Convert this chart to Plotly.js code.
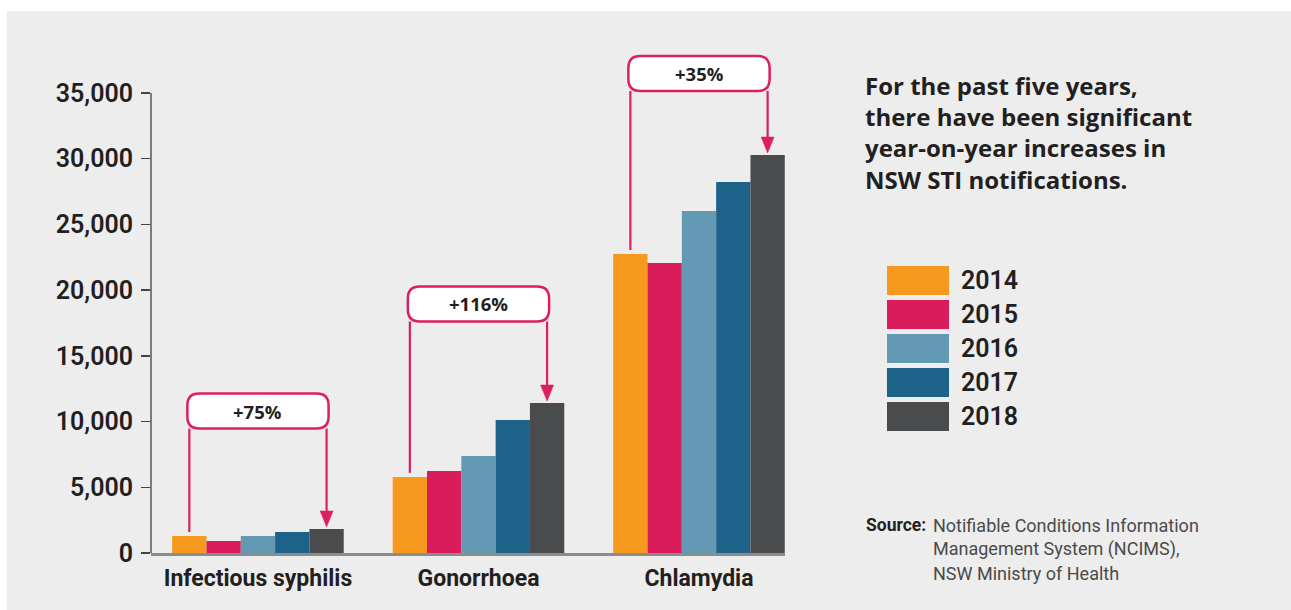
<!DOCTYPE html>
<html>
<head>
<meta charset="utf-8">
<script src="https://cdn.plot.ly/plotly-3.0.1.min.js"></script>
<style>
  html, body { margin: 0; padding: 0; background: #ffffff; }
  #chart { position: absolute; left: 7px; top: 11px; width: 1284px; height: 599px; }
</style>
</head>
<body>
<div id="chart"></div>
<script>
// ---------- data ----------
const categories = ["Infectious syphilis", "Gonorrhoea", "Chlamydia"];
const years = ["2014", "2015", "2016", "2017", "2018"];
const v2014 = [1290, 5790, 22750];
const v2015 = [910, 6240, 22070];
const v2016 = [1290, 7380, 26020];
const v2017 = [1600, 10120, 28230];
const v2018 = [1830, 11410, 30280];
const changeLabels = ["+75%", "+116%", "+35%"];
const yTicks = [0, 5000, 10000, 15000, 20000, 25000, 30000, 35000];
const headingLines = ["For the past five years,", "there have been significant", "year-on-year increases in", "NSW STI notifications."];
const sourceLines = ["Notifiable Conditions Information", "Management System (NCIMS),", "NSW Ministry of Health"];

// ---------- style / layout constants ----------
const seriesValues = [v2014, v2015, v2016, v2017, v2018];
const colors = ["#F7981F", "#DA1B5C", "#6399B2", "#1D6389", "#4A4B4D"];
const pink = "#DC1F5E";
const ink = "#231F20";

// page geometry (pixels, relative to the chart div)
const W = 1284, H = 599;
const M = { l: 144, r: 506, t: 29, b: 57 };
const plotW = W - M.l - M.r;   // 634
const plotH = H - M.t - M.b;   // 513
const axisTopPx = 460;         // pixel height of 0..35000
const yMax = 35000 * plotH / axisTopPx;
const xRange = [-0.485, 2.39];
const xu = (xRange[1] - xRange[0]) / plotW;  // x units per px
const yu = yMax / plotH;                     // y units per px
const bargap = 0.222;
const bw = (1 - bargap) / years.length;

// page-pixel helpers -> paper coords (page px: the screenshot coordinates)
const plotLeftPage = 7 + M.l, plotBottomPage = 11 + M.t + plotH;
const px2paperX = p => (p - plotLeftPage) / plotW;
const px2paperY = p => (plotBottomPage - p) / plotH;

// ---------- traces ----------
const traces = years.map((yr, i) => ({
  type: "bar",
  name: yr,
  x: categories,
  y: seriesValues[i],
  marker: { color: colors[i], line: { width: 0 } },
  showlegend: false,
  hoverinfo: "x+y+name"
}));

// ---------- shapes & annotations ----------
const shapes = [];
const annotations = [];

// y axis line (only up to 35,000)
shapes.push({ type: "line", xref: "paper", yref: "y", x0: 0, x1: 0, y0: 0, y1: yTicks[yTicks.length - 1],
  line: { color: "#555555", width: 1.5 }, layer: "above" });

// callouts
const calloutY = [10800, 18950, 36480];   // centre of the label boxes (y units)
function roundRect(x0, x1, y0, y1, r) {
  const rx = r * xu, ry = r * yu;
  return `M ${x0 + rx},${y1} L ${x1 - rx},${y1} Q ${x1},${y1} ${x1},${y1 - ry} ` +
         `L ${x1},${y0 + ry} Q ${x1},${y0} ${x1 - rx},${y0} L ${x0 + rx},${y0} ` +
         `Q ${x0},${y0} ${x0},${y0 + ry} L ${x0},${y1 - ry} Q ${x0},${y1} ${x0 + rx},${y1} Z`;
}
categories.forEach((c, ci) => {
  const xL = ci - 2 * bw, xR = ci + 2 * bw;
  const yc = calloutY[ci];
  const boxH = 35 * yu;
  const y0 = yc - boxH / 2, y1 = yc + boxH / 2;
  const first = seriesValues[0][ci], last = seriesValues[seriesValues.length - 1][ci];
  // left stem
  shapes.push({ type: "line", xref: "x", yref: "y", x0: xL, x1: xL, y0: y0, y1: first + 4 * yu,
    line: { color: pink, width: 2.2 }, layer: "above" });
  // right stem
  const tip = last + 2 * yu, headH = 16 * yu, headW = 6.5 * xu;
  shapes.push({ type: "line", xref: "x", yref: "y", x0: xR, x1: xR, y0: y0, y1: tip + headH,
    line: { color: pink, width: 2.2 }, layer: "above" });
  shapes.push({ type: "path", xref: "x", yref: "y",
    path: `M ${xR - headW},${tip + headH} L ${xR + headW},${tip + headH} L ${xR},${tip} Z`,
    fillcolor: pink, line: { color: pink, width: 0.5 }, layer: "above" });
  // box
  shapes.push({ type: "path", xref: "x", yref: "y",
    path: roundRect(xL - 2 * xu, xR + 2 * xu, y0, y1, 12),
    fillcolor: "#FFFFFF", line: { color: pink, width: 2.5 }, layer: "above" });
  annotations.push({ xref: "x", yref: "y", x: ci, y: yc, text: "<b>" + changeLabels[ci] + "</b>",
    showarrow: false, xanchor: "center", yanchor: "middle",
    font: { family: "'Open Sans', Lato, sans-serif", size: 18.5, color: ink } });
});

// heading
annotations.push({ xref: "paper", yref: "paper", x: px2paperX(863), y: px2paperY(67),
  xanchor: "left", yanchor: "top", align: "left", showarrow: false,
  text: "<b>" + headingLines.join("<br>") + "</b>",
  font: { family: "'Open Sans', Lato, sans-serif", size: 24, color: ink } });

// legend (custom, large swatches)
years.forEach((yr, i) => {
  const top = 266 + i * 34;
  shapes.push({ type: "rect", xref: "paper", yref: "paper",
    x0: px2paperX(887), x1: px2paperX(949), y0: px2paperY(top + 29), y1: px2paperY(top),
    fillcolor: colors[i], line: { width: 0 } });
  annotations.push({ xref: "paper", yref: "paper", x: px2paperX(959), y: px2paperY(top + 14),
    xanchor: "left", yanchor: "middle", showarrow: false, text: yr,
    font: { family: "Roboto, sans-serif", size: 25, color: ink, weight: 600 } });
});

// source
annotations.push({ xref: "paper", yref: "paper", x: px2paperX(864), y: px2paperY(525),
  xanchor: "left", yanchor: "middle", showarrow: false, text: "<b>Source:</b>",
  font: { family: "Roboto, sans-serif", size: 17.5, color: ink } });
sourceLines.forEach((t, i) => {
  annotations.push({ xref: "paper", yref: "paper", x: px2paperX(931), y: px2paperY(525 + i * 24.3),
    xanchor: "left", yanchor: "middle", showarrow: false, text: t,
    font: { family: "Roboto, sans-serif", size: 18, color: "#4A4A4A" } });
});

const layout = {
  width: W, height: H,
  margin: M,
  paper_bgcolor: "#EDEDED",
  plot_bgcolor: "rgba(0,0,0,0)",
  barmode: "group",
  bargap: bargap,
  bargroupgap: 0,
  showlegend: false,
  xaxis: {
    type: "category",
    range: xRange,
    showline: true, linecolor: "#8C8C8C", linewidth: 2.5,
    showgrid: false, zeroline: false, ticks: "",
    tickfont: { family: "Roboto, sans-serif", size: 23, color: ink, weight: "bold" },
    ticklabelstandoff: 3
  },
  yaxis: {
    range: [0, yMax],
    tickvals: yTicks,
    tickformat: ",",
    showline: false, showgrid: false, zeroline: false,
    ticks: "outside", ticklen: 9, tickwidth: 1.5, tickcolor: "#444444",
    tickfont: { family: "Roboto, sans-serif", size: 25, color: ink, weight: 600 },
    ticklabelstandoff: 3
  },
  shapes: shapes,
  annotations: annotations
};

Plotly.newPlot("chart", traces, layout, { displayModeBar: false, staticPlot: true });
</script>
</body>
</html>
